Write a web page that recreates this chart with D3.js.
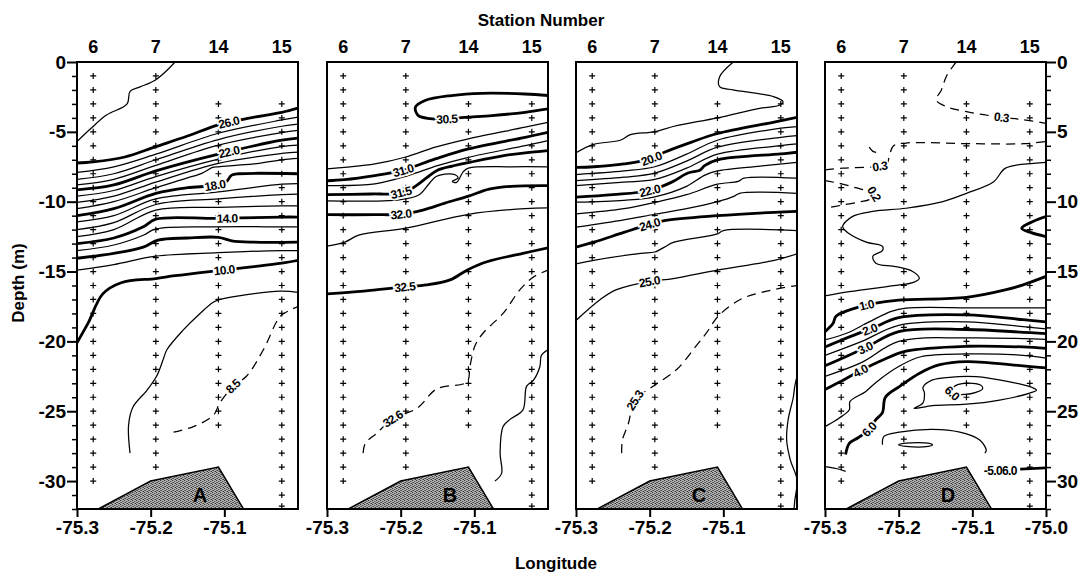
<!DOCTYPE html>
<html><head><meta charset="utf-8">
<script src="https://cdn.jsdelivr.net/npm/d3@7"></script>
<style>
body{margin:0;background:#fff}
svg{display:block}
text{font-family:"Liberation Sans",Arial,sans-serif;font-weight:bold}
</style>
</head><body>
<svg id="c" width="1083" height="577"></svg>
<script>
// ---------------- DATA ----------------
const panelLetters = ["A","B","C","D"];
const lonDomain = [-75.3, -75.0];
const depthDomain = [0, -32];
const lonTicksABC = [-75.3, -75.2, -75.1];
const lonTicksD = [-75.3, -75.2, -75.1, -75.0];
const depthMajorTicks = [0, -5, -10, -15, -20, -25, -30];

const stationNumbers = ["6", "7", "14", "15"];
const stationLon = [-75.278, -75.193, -75.108, -75.022];
const st6Depths = [-1,-2,-3,-4,-5,-6,-7,-8,-9,-10,-11,-12,-13,-14,-15,-16,-17,-18,-19,-20,-21,-22,-23,-24,-25,-26,-27,-28,-29,-30];
const st7Depths = [-1,-2,-3,-4,-5,-6,-7,-8,-9,-10,-11,-12,-13,-14,-15,-16,-17,-18,-19,-20,-21,-22,-23,-24,-25,-26,-27,-28,-29];
const st14Depths = [-3,-4,-5,-6,-7,-8,-9,-10,-11,-12,-13,-14,-15,-16,-17,-18,-19,-20,-21,-22,-23,-24,-25,-26];
const st15Depths = [-3,-4,-5,-6,-7,-8,-9,-10,-11,-12,-13,-14,-15,-16,-17,-18,-19,-20,-21,-22,-23,-24,-25,-26,-27,-28,-29,-30,-31,-31.8];
const stationDepths = [st6Depths, st7Depths, st14Depths, st15Depths];

const seabedLon = [-75.271, -75.2, -75.108, -75.074];
const seabedDepth = [-32, -30, -29, -32];

// Panel A contours (value, [lon, depth] points)
const contoursA = [
  {v:27, pts:[[-75.167,0],[-75.18,-0.7],[-75.194,-1.3],[-75.215,-1.8],[-75.228,-2.1],[-75.232,-3.0],[-75.26,-3.8],[-75.282,-4.8],[-75.3,-5.7]]},
  {v:26, pts:[[-75.3,-7.23],[-75.278,-7.15],[-75.235,-6.8],[-75.193,-6.06],[-75.15,-5.3],[-75.108,-4.5],[-75.07,-4.05],[-75.022,-3.6],[-75.0,-3.3]]},
  {v:25, pts:[[-75.3,-7.9],[-75.25,-7.5],[-75.193,-6.6],[-75.108,-5.1],[-75.022,-4.15],[-75.0,-3.95]]},
  {v:24, pts:[[-75.3,-8.4],[-75.25,-8.0],[-75.193,-7.0],[-75.108,-5.55],[-75.022,-4.6],[-75.0,-4.45]]},
  {v:23, pts:[[-75.3,-8.8],[-75.25,-8.4],[-75.193,-7.4],[-75.108,-5.95],[-75.022,-5.05],[-75.0,-4.9]]},
  {v:22, pts:[[-75.3,-9.15],[-75.25,-8.8],[-75.193,-7.8],[-75.108,-6.6],[-75.022,-5.6],[-75.0,-5.45]]},
  {v:21, pts:[[-75.3,-9.6],[-75.25,-9.2],[-75.193,-8.2],[-75.108,-6.95],[-75.022,-6.05],[-75.0,-5.95]]},
  {v:20, pts:[[-75.3,-10.05],[-75.25,-9.6],[-75.193,-8.6],[-75.108,-7.25],[-75.022,-6.55],[-75.0,-6.45]]},
  {v:19, pts:[[-75.3,-10.5],[-75.25,-10.0],[-75.193,-9.0],[-75.15,-8.3],[-75.13,-7.95],[-75.116,-7.55],[-75.108,-7.5],[-75.06,-7.3],[-75.022,-7.0],[-75.0,-6.9]]},
  {v:18, pts:[[-75.3,-11.0],[-75.25,-10.5],[-75.193,-9.4],[-75.15,-9.0],[-75.115,-8.85],[-75.098,-8.6],[-75.09,-8.1],[-75.08,-8.0],[-75.0,-8.0]]},
  {v:17, pts:[[-75.3,-11.45],[-75.25,-11.0],[-75.193,-9.8],[-75.108,-9.3],[-75.022,-8.75],[-75.0,-8.7]]},
  {v:16, pts:[[-75.3,-12.0],[-75.25,-11.5],[-75.193,-10.2],[-75.108,-9.8],[-75.022,-9.5],[-75.0,-9.45]]},
  {v:15, pts:[[-75.3,-12.5],[-75.25,-12.0],[-75.193,-10.6],[-75.108,-10.4],[-75.022,-10.3],[-75.0,-10.3]]},
  {v:14, pts:[[-75.3,-13.0],[-75.25,-12.6],[-75.21,-11.8],[-75.193,-11.25],[-75.108,-11.2],[-75.022,-11.1],[-75.0,-11.1]]},
  {v:13, pts:[[-75.3,-13.5],[-75.25,-13.1],[-75.21,-12.4],[-75.193,-11.95],[-75.108,-11.8],[-75.022,-11.8],[-75.0,-11.8]]},
  {v:12, pts:[[-75.3,-14.05],[-75.25,-13.7],[-75.21,-13.25],[-75.19,-12.75],[-75.15,-12.6],[-75.108,-12.55],[-75.09,-12.8],[-75.06,-12.9],[-75.0,-12.9]]},
  {v:11, pts:[[-75.3,-14.9],[-75.25,-14.5],[-75.193,-13.9],[-75.108,-13.65],[-75.022,-13.5],[-75.0,-13.5]]},
  {v:10, pts:[[-75.3,-20.1],[-75.285,-18.7],[-75.265,-16.6],[-75.24,-15.8],[-75.193,-15.5],[-75.167,-15.3],[-75.12,-15.0],[-75.06,-14.65],[-75.022,-14.4],[-75.0,-14.2]]},
  {v:9, pts:[[-75.228,-28.0],[-75.23,-26.0],[-75.224,-24.7],[-75.205,-23.5],[-75.192,-22.5],[-75.183,-21.3],[-75.178,-20.6],[-75.156,-19.2],[-75.133,-18.0],[-75.115,-17.2],[-75.106,-17.0],[-75.024,-16.4],[-75.0,-16.5]]},
  {v:8.5, pts:[[-75.169,-26.5],[-75.142,-26.1],[-75.115,-25.3],[-75.106,-24.4],[-75.088,-23.2],[-75.07,-22.5],[-75.047,-20.6],[-75.024,-18.2],[-75.01,-17.75],[-75.0,-17.5]]}
];
const thickA = [26, 22, 18, 14, 12, 10];
const dashedA = [8.5];
const labelsA = [
  {v:26, t:"26.0", lon:-75.094, dep:-4.4},
  {v:22, t:"22.0", lon:-75.093, dep:-6.5},
  {v:18, t:"18.0", lon:-75.112, dep:-8.85},
  {v:14, t:"14.0", lon:-75.097, dep:-11.2},
  {v:10, t:"10.0", lon:-75.1, dep:-15.0},
  {v:8.5, t:"8.5", lon:-75.088, dep:-23.2}
];

// Panel B contours
const contoursB = [
  {v:30.5, pts:[[-75.0,-2.4],[-75.031,-2.29],[-75.09,-2.24],[-75.131,-2.4],[-75.167,-2.76],[-75.18,-3.24],[-75.176,-3.84],[-75.16,-4.05],[-75.138,-4.08],[-75.113,-3.96],[-75.076,-3.84],[-75.031,-3.6],[-75.0,-3.36]]},
  {v:30.75, pts:[[-75.3,-7.66],[-75.276,-7.54],[-75.235,-7.3],[-75.193,-6.8],[-75.153,-6.1],[-75.108,-5.5],[-75.031,-4.67],[-75.0,-4.32]]},
  {v:31.0, pts:[[-75.3,-8.5],[-75.276,-8.42],[-75.235,-8.13],[-75.2,-7.8],[-75.153,-6.94],[-75.108,-6.22],[-75.031,-5.39],[-75.0,-5.03]]},
  {v:31.25, pts:[[-75.3,-8.85],[-75.235,-8.73],[-75.19,-8.13],[-75.15,-7.42],[-75.108,-6.82],[-75.031,-5.99],[-75.0,-5.63]]},
  {v:31.5, pts:[[-75.3,-9.5],[-75.24,-9.45],[-75.205,-9.4],[-75.185,-9.05],[-75.165,-8.3],[-75.15,-7.75],[-75.13,-7.45],[-75.108,-7.2],[-75.06,-6.7],[-75.031,-6.5],[-75.0,-6.34]]},
  {v:31.75, pts:[[-75.3,-9.95],[-75.2,-9.85],[-75.175,-9.5],[-75.162,-8.75],[-75.152,-8.2],[-75.14,-8.02],[-75.126,-8.07],[-75.122,-8.3],[-75.13,-8.55],[-75.124,-8.62],[-75.115,-7.85],[-75.108,-7.6],[-75.05,-7.5],[-75.0,-7.5]]},
  {v:32.0, pts:[[-75.3,-10.93],[-75.235,-10.93],[-75.2,-10.9],[-75.17,-10.6],[-75.14,-10.1],[-75.108,-9.6],[-75.08,-9.1],[-75.05,-8.9],[-75.0,-8.85]]},
  {v:32.25, pts:[[-75.3,-13.19],[-75.276,-12.9],[-75.257,-12.4],[-75.193,-11.9],[-75.108,-10.9],[-75.031,-10.5],[-75.0,-10.45]]},
  {v:32.5, pts:[[-75.3,-16.6],[-75.25,-16.4],[-75.195,-16.1],[-75.165,-15.96],[-75.133,-15.6],[-75.11,-14.9],[-75.083,-14.3],[-75.034,-13.7],[-75.0,-13.3]]},
  {v:32.6, pts:[[-75.251,-28.0],[-75.248,-27.3],[-75.233,-26.6],[-75.21,-25.5],[-75.178,-24.8],[-75.151,-23.4],[-75.11,-22.9],[-75.106,-21.8],[-75.099,-20.3],[-75.088,-19.4],[-75.061,-18.0],[-75.038,-16.3],[-75.02,-15.4],[-75.0,-14.9]]},
  {v:32.65, pts:[[-75.0,-20.6],[-75.009,-21.0],[-75.011,-21.8],[-75.02,-22.8],[-75.029,-23.2],[-75.034,-24.9],[-75.052,-25.6],[-75.061,-26.1],[-75.065,-28.0],[-75.063,-29.45],[-75.072,-30.0]]}
];
const thickB = [30.5, 31.0, 31.5, 32.0, 32.5];
const dashedB = [32.6];
const labelsB = [
  {v:30.5, t:"30.5", lon:-75.138, dep:-4.05},
  {v:31.0, t:"31.0", lon:-75.197, dep:-7.8},
  {v:31.5, t:"31.5", lon:-75.2, dep:-9.4},
  {v:32.0, t:"32.0", lon:-75.2, dep:-10.9},
  {v:32.5, t:"32.5", lon:-75.195, dep:-16.1},
  {v:32.6, t:"32.6", lon:-75.21, dep:-25.6}
];

// Panel C contours
const contoursC = [
  {v:19.5, pts:[[-75.0865,0],[-75.105,-1.05],[-75.105,-1.77],[-75.087,-2.0],[-75.032,-2.48],[-75.019,-2.84],[-75.024,-3.1],[-75.049,-3.3],[-75.108,-4.0],[-75.167,-4.6],[-75.194,-5.0],[-75.226,-5.2],[-75.24,-5.6],[-75.276,-5.9],[-75.3,-6.5]]},
  {v:20.0, pts:[[-75.3,-7.55],[-75.276,-7.5],[-75.235,-7.3],[-75.2,-6.95],[-75.18,-6.46],[-75.144,-5.75],[-75.108,-5.12],[-75.031,-4.3],[-75.0,-3.96]]},
  {v:20.5, pts:[[-75.3,-8.06],[-75.235,-7.8],[-75.193,-7.5],[-75.15,-6.6],[-75.108,-5.6],[-75.022,-4.74],[-75.0,-4.63]]},
  {v:21.0, pts:[[-75.3,-8.5],[-75.235,-8.25],[-75.193,-7.95],[-75.15,-7.1],[-75.108,-6.1],[-75.022,-5.39],[-75.0,-5.27]]},
  {v:21.5, pts:[[-75.3,-8.85],[-75.235,-8.6],[-75.193,-8.4],[-75.15,-7.6],[-75.108,-6.6],[-75.022,-5.99],[-75.0,-5.87]]},
  {v:22.0, pts:[[-75.3,-9.68],[-75.25,-9.5],[-75.2,-9.2],[-75.17,-8.6],[-75.148,-7.95],[-75.132,-7.75],[-75.125,-7.4],[-75.108,-7.0],[-75.022,-6.58],[-75.0,-6.46]]},
  {v:22.5, pts:[[-75.3,-10.04],[-75.235,-9.9],[-75.193,-9.65],[-75.15,-8.9],[-75.125,-8.1],[-75.108,-7.8],[-75.05,-7.45],[-75.0,-7.18]]},
  {v:23.0, pts:[[-75.3,-10.88],[-75.235,-10.5],[-75.193,-10.05],[-75.15,-9.5],[-75.108,-8.75],[-75.08,-8.55],[-75.072,-8.32],[-75.0,-8.32]]},
  {v:23.5, pts:[[-75.3,-11.83],[-75.235,-11.3],[-75.193,-10.9],[-75.15,-10.5],[-75.108,-10.0],[-75.085,-9.6],[-75.078,-9.4],[-75.0,-9.4]]},
  {v:24.0, pts:[[-75.3,-13.26],[-75.276,-12.9],[-75.235,-12.2],[-75.205,-11.7],[-75.18,-11.36],[-75.108,-11.0],[-75.031,-10.76],[-75.0,-10.7]]},
  {v:24.5, pts:[[-75.3,-14.46],[-75.276,-14.2],[-75.212,-13.7],[-75.193,-13.6],[-75.18,-13.25],[-75.167,-12.9],[-75.108,-12.3],[-75.1,-12.07],[-75.0,-12.07]]},
  {v:25.0, pts:[[-75.3,-18.5],[-75.267,-17.0],[-75.245,-16.3],[-75.2,-15.7],[-75.168,-15.5],[-75.108,-14.9],[-75.031,-14.2],[-75.0,-13.74]]},
  {v:25.3, pts:[[-75.238,-28.0],[-75.237,-27.06],[-75.229,-25.9],[-75.22,-24.2],[-75.195,-23.2],[-75.163,-22.0],[-75.138,-20.4],[-75.123,-19.4],[-75.107,-18.2],[-75.077,-17.0],[-75.041,-16.4],[-75.0,-16.0]]},
  {v:25.4, pts:[[-75.0,-22.5],[-75.003,-23.2],[-75.005,-24.0],[-75.012,-25.6],[-75.014,-27.1],[-75.009,-28.5],[-75.0,-29.9],[-75.003,-31.4],[-75.004,-32]]}
];
const thickC = [20.0, 22.0, 24.0];
const dashedC = [25.3];
const labelsC = [
  {v:20.0, t:"20.0", lon:-75.198, dep:-6.95},
  {v:22.0, t:"22.0", lon:-75.2, dep:-9.2},
  {v:24.0, t:"24.0", lon:-75.2, dep:-11.7},
  {v:25.0, t:"25.0", lon:-75.2, dep:-15.7},
  {v:25.3, t:"25.3", lon:-75.22, dep:-24.2}
];

// Panel D contours
const contoursD = [
  {v:0.3, pts:[[-75.122,0],[-75.135,-1.0],[-75.142,-2.0],[-75.149,-2.72],[-75.135,-3.2],[-75.108,-3.56],[-75.06,-3.96],[-75.035,-4.1],[-75.0,-4.39]]},
  {v:0.3, pts:[[-75.3,-7.73],[-75.276,-7.6],[-75.235,-7.5],[-75.216,-7.3],[-75.213,-6.8],[-75.207,-6.0],[-75.19,-5.8],[-75.1,-5.85],[-75.03,-5.85],[-75.0,-5.7]]},
  {v:0.25, pts:[[-75.24,-6.1],[-75.235,-6.4],[-75.228,-6.5]]},
  {v:0.2, pts:[[-75.3,-8.5],[-75.281,-8.68],[-75.263,-8.93],[-75.245,-9.2],[-75.232,-9.5],[-75.24,-9.85],[-75.251,-10.0],[-75.276,-10.24],[-75.3,-10.47]]},
  {v:0.5, pts:[[-75.0,-7.18],[-75.017,-7.25],[-75.055,-7.6],[-75.071,-8.57],[-75.108,-9.4],[-75.14,-10.0],[-75.19,-10.47],[-75.235,-10.7],[-75.263,-11.07],[-75.276,-11.8],[-75.267,-12.3],[-75.244,-12.9],[-75.222,-13.2],[-75.222,-13.5],[-75.235,-13.9],[-75.231,-14.4],[-75.204,-14.65],[-75.181,-15.0],[-75.172,-15.5],[-75.181,-15.8],[-75.199,-15.96],[-75.267,-16.44],[-75.3,-16.75]]},
  {v:1.0, pts:[[-75.0,-11.07],[-75.017,-11.4],[-75.033,-11.9],[-75.021,-12.2],[-75.0,-12.5]]},
  {v:1.0, pts:[[-75.3,-19.3],[-75.289,-18.7],[-75.285,-18.2],[-75.258,-17.6],[-75.235,-17.3],[-75.2,-17.05],[-75.108,-16.85],[-75.054,-16.3],[-75.031,-15.95],[-75.0,-15.35]]},
  {v:1.5, pts:[[-75.3,-19.9],[-75.27,-19.4],[-75.24,-18.6],[-75.21,-17.85],[-75.19,-17.62],[-75.1,-17.6],[-75.0,-17.6]]},
  {v:2.0, pts:[[-75.3,-20.4],[-75.258,-19.5],[-75.235,-19.05],[-75.2,-18.3],[-75.108,-18.1],[-75.031,-18.45],[-75.0,-18.6]]},
  {v:2.5, pts:[[-75.3,-21.0],[-75.25,-20.0],[-75.2,-18.85],[-75.108,-18.6],[-75.031,-18.95],[-75.0,-19.1]]},
  {v:3.0, pts:[[-75.3,-21.75],[-75.245,-20.45],[-75.2,-19.3],[-75.108,-19.15],[-75.031,-19.35],[-75.0,-19.45]]},
  {v:3.5, pts:[[-75.3,-22.5],[-75.25,-21.5],[-75.2,-20.0],[-75.108,-19.75],[-75.031,-19.8],[-75.0,-19.85]]},
  {v:4.0, pts:[[-75.3,-23.45],[-75.28,-22.9],[-75.25,-22.05],[-75.22,-21.3],[-75.19,-20.7],[-75.108,-20.35],[-75.031,-20.4],[-75.0,-20.5]]},
  {v:4.5, pts:[[-75.0,-21.2],[-75.031,-21.0],[-75.108,-20.9],[-75.17,-21.1],[-75.2,-21.8],[-75.23,-22.9],[-75.245,-23.6],[-75.266,-24.3],[-75.267,-24.9],[-75.281,-25.5],[-75.3,-26.1]]},
  {v:5.0, pts:[[-75.0,-21.9],[-75.031,-21.75],[-75.108,-21.45],[-75.144,-21.67],[-75.171,-22.26],[-75.198,-23.2],[-75.218,-24.0],[-75.222,-25.1],[-75.231,-25.6],[-75.24,-26.3],[-75.255,-26.9],[-75.267,-27.3],[-75.272,-28.1]]},
  {v:5.5, closed:true, pts:[[-75.179,-24.8],[-75.167,-24.4],[-75.165,-23.7],[-75.167,-23.3],[-75.154,-22.76],[-75.131,-22.57],[-75.095,-22.53],[-75.049,-22.9],[-75.022,-23.24],[-75.013,-23.5],[-75.022,-23.7],[-75.063,-24.2],[-75.108,-24.5],[-75.154,-24.6]]},
  {v:6.0, closed:true, pts:[[-75.13,-23.55],[-75.12,-23.1],[-75.1,-23.0],[-75.088,-23.15],[-75.086,-23.4],[-75.095,-23.65],[-75.11,-23.8],[-75.125,-23.75]]},
  {v:5.5, pts:[[-75.222,-27.4],[-75.22,-26.8],[-75.199,-26.5],[-75.154,-26.3],[-75.117,-26.5],[-75.09,-27.06],[-75.081,-27.8],[-75.083,-28.0]]},
  {v:5.8, closed:true, pts:[[-75.2,-27.4],[-75.19,-27.28],[-75.16,-27.28],[-75.154,-27.4],[-75.16,-27.52],[-75.19,-27.52]]},
  {v:5.5, pts:[[-75.3,-28.97],[-75.285,-29.1],[-75.272,-29.3]]},
  {v:5.0, pts:[[-75.035,-29.15],[-75.0,-29.05]]}
];
const thickD = [1.0, 2.0, 3.0, 4.0, 5.0];
const dashedD = [0.3, 0.25, 0.2];
const labelsD = [
  {v:0.3, t:"0.3", lon:-75.06, dep:-3.96},
  {v:0.3, t:"0.3", lon:-75.226, dep:-7.45},
  {v:0.2, t:"0.2", lon:-75.234, dep:-9.45},
  {v:1.0, t:"1.0", lon:-75.243, dep:-17.4},
  {v:2.0, t:"2.0", lon:-75.24, dep:-19.1},
  {v:3.0, t:"3.0", lon:-75.245, dep:-20.45},
  {v:4.0, t:"4.0", lon:-75.252, dep:-22.05},
  {v:5.0, t:"6.0", lon:-75.24, dep:-26.3},
  {v:6.0, t:"6.0", lon:-75.126, dep:-23.6},
  {v:-1, t:"-5.06.0", lon:-75.062, dep:-29.25}
];

const panelContours = [contoursA, contoursB, contoursC, contoursD];
const panelThick = [thickA, thickB, thickC, thickD];
const panelDashed = [dashedA, dashedB, dashedC, dashedD];
const panelLabels = [labelsA, labelsB, labelsC, labelsD];

// ---------------- LAYOUT ----------------
const panelLeft = [77, 327, 576, 825];
const PW = 221, TOP = 62, BOT = 509;
const FONT = '"Liberation Sans", Arial, sans-serif';

const svg = d3.select("#c");
const defs = svg.append("defs");

// stipple texture for the sea floor
const pat = defs.append("pattern").attr("id","stip").attr("patternUnits","userSpaceOnUse")
  .attr("width",4).attr("height",4);
pat.append("rect").attr("width",4).attr("height",4).attr("fill","#b4b4b4");
[[0,0,"#333"],[2,1,"#555"],[1,2,"#444"],[3,3,"#333"],[2,3,"#777"],[0,2,"#666"],[3,1,"#888"],[1,0,"#999"]].forEach(([a,b,c])=>
  pat.append("rect").attr("x",a).attr("y",b).attr("width",1).attr("height",1).attr("fill",c));

panelLetters.forEach((letter, i) => {
  const x = d3.scaleLinear().domain(lonDomain).range([panelLeft[i], panelLeft[i] + PW]);
  const y = d3.scaleLinear().domain(depthDomain).range([TOP, BOT]);
  const g = svg.append("g");

  defs.append("clipPath").attr("id","clip"+i).append("rect")
    .attr("x", panelLeft[i]).attr("y", TOP).attr("width", PW).attr("height", BOT - TOP);
  const inner = g.append("g").attr("clip-path", `url(#clip${i})`);

  // sea floor
  const floorPts = seabedLon.map((l, k) => [x(l), y(seabedDepth[k])]);
  inner.append("path").attr("d", "M" + floorPts.map(p => p.join(",")).join("L") + "Z")
    .attr("fill", "url(#stip)").attr("stroke", "#000").attr("stroke-width", 1.5);

  // contours
  const thick = panelThick[i], dashed = panelDashed[i];
  const lineOpen = d3.line().x(d => x(d[0])).y(d => y(d[1])).curve(d3.curveCatmullRom.alpha(0.5));
  const lineClosed = d3.line().x(d => x(d[0])).y(d => y(d[1])).curve(d3.curveCatmullRomClosed.alpha(0.5));
  const pathEls = [];
  panelContours[i].forEach(c => {
    const p = inner.append("path")
      .attr("d", (c.closed ? lineClosed : lineOpen)(c.pts))
      .attr("fill", "none").attr("stroke", "#000")
      .attr("stroke-width", thick.includes(c.v) ? 2.8 : 1.25)
      .attr("stroke-linejoin", "round")
      .attr("stroke-dasharray", dashed.includes(c.v) ? "9,6" : null);
    pathEls.push({v: c.v, el: p.node()});
  });

  // station sample crosses
  stationLon.forEach((lon, s) => {
    stationDepths[s].forEach(dep => {
      const cx = x(lon), cy = y(dep);
      inner.append("path").attr("d", `M${cx-3},${cy}H${cx+3}M${cx},${cy-3}V${cy+3}`)
        .attr("stroke", "#000").attr("stroke-width", 1.2);
    });
  });

  // contour labels
  panelLabels[i].forEach(lb => {
    const tx = x(lb.lon), ty = y(lb.dep);
    let best = null;
    const cands = pathEls.filter(p => p.v === lb.v);
    (cands.length ? cands : pathEls).forEach(p => {
      const L = p.el.getTotalLength();
      for (let s = 0; s <= L; s += 1) {
        const pt = p.el.getPointAtLength(s);
        const d = (pt.x - tx) ** 2 + (pt.y - ty) ** 2;
        if (!best || d < best.d) best = {d, s, el: p.el, L};
      }
    });
    let px = tx, py = ty, ang = 0;
    if (best && best.d < 150) {
      const c = best.el.getPointAtLength(best.s);
      const a = best.el.getPointAtLength(Math.max(0, best.s - 5));
      const b = best.el.getPointAtLength(Math.min(best.L, best.s + 5));
      ang = Math.atan2(b.y - a.y, b.x - a.x) * 180 / Math.PI;
      if (ang > 90) ang -= 180;
      if (ang < -90) ang += 180;
      px = c.x; py = c.y;
    }
    inner.append("text").attr("transform", `translate(${px},${py}) rotate(${ang})`)
      .attr("text-anchor", "middle").attr("dy", "0.36em")
      .attr("font-size", 12).attr("font-family", FONT).attr("font-weight", "bold")
      .attr("fill", "#000").attr("stroke", "#fff").attr("stroke-width", 3.5)
      .attr("paint-order", "stroke").attr("letter-spacing", "-0.6")
      .text(lb.t);
  });

  // panel letter
  g.append("text").attr("x", x(-75.133)).attr("y", y(-31.0) + 7)
    .attr("text-anchor", "middle").attr("font-size", 20).attr("font-family", FONT)
    .attr("font-weight", "bold").text(letter);

  // frame
  g.append("rect").attr("x", panelLeft[i]).attr("y", TOP).attr("width", PW).attr("height", BOT - TOP)
    .attr("fill", "none").attr("stroke", "#000").attr("stroke-width", 2);

  // bottom axis
  const ax = d3.axisBottom(x).tickValues(i === 3 ? lonTicksD : lonTicksABC)
    .tickFormat(d => d.toFixed(1)).tickSize(8).tickPadding(4);
  const axg = g.append("g").attr("transform", `translate(0,${BOT})`).call(ax);
  axg.select(".domain").remove();
  axg.attr("font-size", 19).attr("font-family", FONT).attr("font-weight", "bold");
  axg.selectAll("line").attr("stroke-width", 2);

  // station numbers on top
  stationLon.forEach((lon, s) => {
    g.append("text").attr("x", x(lon)).attr("y", 53).attr("text-anchor", "middle")
      .attr("font-size", 18).attr("font-family", FONT).attr("font-weight", "bold")
      .text(stationNumbers[s]);
  });

  // depth axes
  if (i === 0 || i === 3) {
    const minor = d3.range(-1, -33, -1).filter(d => d % 5 !== 0);
    const mk = i === 0 ? d3.axisLeft : d3.axisRight;
    const xpos = i === 0 ? panelLeft[i] : panelLeft[i] + PW;
    const majG = g.append("g").attr("transform", `translate(${xpos},0)`)
      .call(mk(y).tickValues(depthMajorTicks).tickSize(10).tickPadding(1)
        .tickFormat(d => i === 0 ? (d === 0 ? "0" : String(d)) : String(Math.abs(d))));
    majG.select(".domain").remove();
    majG.attr("font-size", 19).attr("font-family", FONT).attr("font-weight", "bold");
    majG.selectAll("line").attr("stroke-width", 2);
    const minG = g.append("g").attr("transform", `translate(${xpos},0)`)
      .call(mk(y).tickValues(minor).tickSize(5).tickFormat(""));
    minG.select(".domain").remove();
    minG.selectAll("line").attr("stroke-width", 1.5);
  }
});

// titles
svg.append("text").attr("x", 541).attr("y", 26).attr("text-anchor", "middle")
  .attr("font-size", 17).attr("font-family", FONT).attr("font-weight", "bold").text("Station Number");
svg.append("text").attr("x", 556).attr("y", 569).attr("text-anchor", "middle")
  .attr("font-size", 17).attr("font-family", FONT).attr("font-weight", "bold").text("Longitude");
svg.append("text").attr("transform", "translate(24,283) rotate(-90)").attr("text-anchor", "middle")
  .attr("font-size", 17).attr("font-family", FONT).attr("font-weight", "bold").text("Depth (m)");
</script>
</body></html>
